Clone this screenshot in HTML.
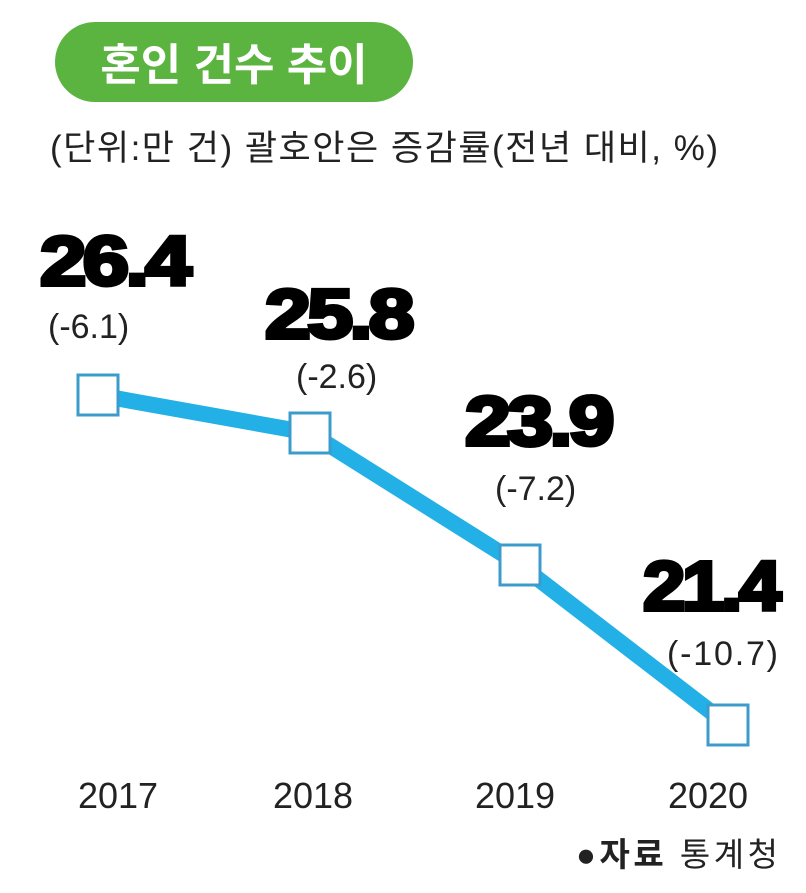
<!DOCTYPE html>
<html><head><meta charset="utf-8"><style>
body{margin:0;width:806px;height:888px;background:#fff;overflow:hidden;font-family:"Liberation Sans","Noto Sans CJK KR",sans-serif}
</style></head><body>
<svg width="806" height="888" xmlns="http://www.w3.org/2000/svg" font-family="Liberation Sans, Noto Sans CJK KR, sans-serif">
<rect x="55" y="22" width="358" height="80" rx="40" fill="#5bb43f"/>
<text x="234" y="80" text-anchor="middle" font-size="44" font-weight="bold" fill="#fff">혼인 건수 추이</text>
<text x="50" y="160" font-size="35" fill="#222" textLength="668">(단위:만 건) 괄호안은 증감률(전년 대비, %)</text>
<polyline points="98,395 310,433 520,565 728,725" fill="none" stroke="#22b0e6" stroke-width="16" stroke-linejoin="round"/>
<g fill="#fff" stroke="#3b9ccc" stroke-width="3">
<rect x="78" y="375" width="40" height="40"/><rect x="290" y="413" width="40" height="40"/>
<rect x="500" y="545" width="40" height="40"/><rect x="708" y="705" width="40" height="40"/>
</g>
<g font-size="70" font-weight="900" fill="#000" stroke="#000" stroke-width="4" letter-spacing="-3">
<text x="40" y="285" textLength="148" lengthAdjust="spacingAndGlyphs">26.4</text>
<text x="265" y="338" textLength="146" lengthAdjust="spacingAndGlyphs">25.8</text>
<text x="465" y="445" textLength="146" lengthAdjust="spacingAndGlyphs">23.9</text>
<text x="643" y="610" textLength="135" lengthAdjust="spacingAndGlyphs">21.4</text>
</g>
<g font-size="34" fill="#222">
<text x="48" y="338">(-6.1)</text>
<text x="296" y="388">(-2.6)</text>
<text x="495" y="500">(-7.2)</text>
<text x="667" y="665" textLength="111">(-10.7)</text>
</g>
<g font-size="36" fill="#222" text-anchor="middle">
<text x="118" y="808">2017</text><text x="313" y="808">2018</text>
<text x="515" y="808">2019</text><text x="708" y="808">2020</text>
</g>
<text x="576" y="866" font-size="33" fill="#222" textLength="202"><tspan font-weight="bold">●자료</tspan> 통계청</text>
</svg>
</body></html>
